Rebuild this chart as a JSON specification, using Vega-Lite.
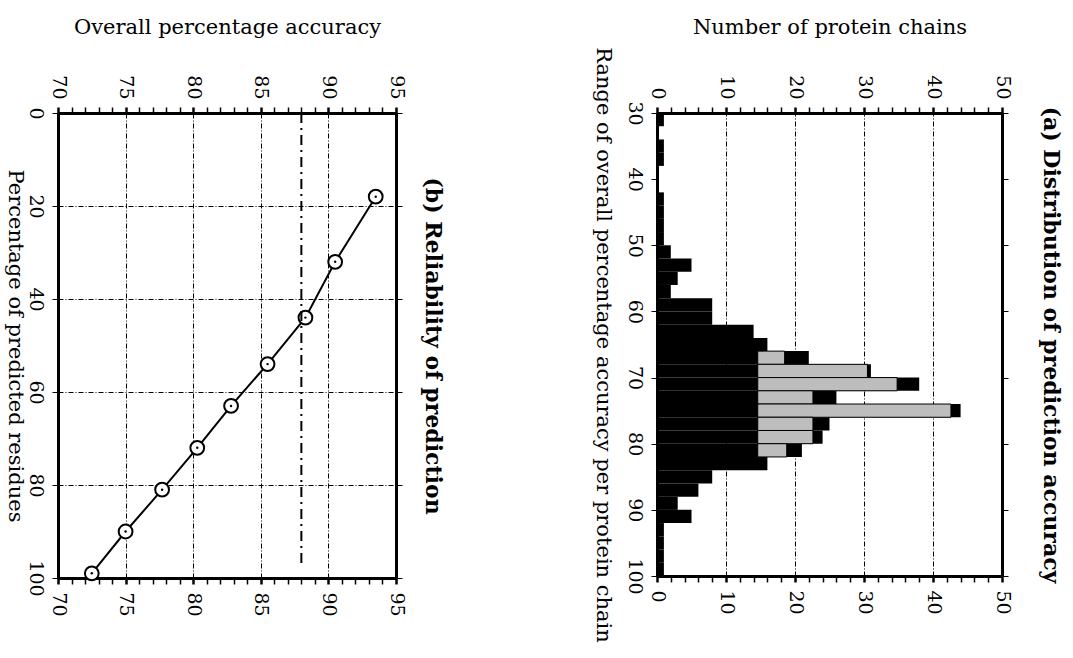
{
  "$schema": "https://vega.github.io/schema/vega-lite/v6.json",
  "padding": {"left": 4, "top": 16, "right": 5, "bottom": 5},
  "spacing": 147,
  "datasets": {
    "reliability": [
      {"pct": 18, "acc": 93.5},
      {"pct": 32, "acc": 90.5},
      {"pct": 44, "acc": 88.3},
      {"pct": 54, "acc": 85.5},
      {"pct": 63, "acc": 82.8},
      {"pct": 72, "acc": 80.3},
      {"pct": 81, "acc": 77.7},
      {"pct": 90, "acc": 75.0},
      {"pct": 99, "acc": 72.5}
    ],
    "cutoff": [{"acc": 88, "pct_from": 0, "pct_to": 97}],
    "hist": [
      {"lo": 30, "hi": 32, "count": 1},
      {"lo": 32, "hi": 34, "count": 0},
      {"lo": 34, "hi": 36, "count": 1},
      {"lo": 36, "hi": 38, "count": 1},
      {"lo": 38, "hi": 40, "count": 0},
      {"lo": 40, "hi": 42, "count": 0},
      {"lo": 42, "hi": 44, "count": 1},
      {"lo": 44, "hi": 46, "count": 1},
      {"lo": 46, "hi": 48, "count": 1},
      {"lo": 48, "hi": 50, "count": 1},
      {"lo": 50, "hi": 52, "count": 2},
      {"lo": 52, "hi": 54, "count": 5},
      {"lo": 54, "hi": 56, "count": 3},
      {"lo": 56, "hi": 58, "count": 2},
      {"lo": 58, "hi": 60, "count": 8},
      {"lo": 60, "hi": 62, "count": 8},
      {"lo": 62, "hi": 64, "count": 14},
      {"lo": 64, "hi": 66, "count": 16},
      {"lo": 66, "hi": 68, "count": 22, "shade_from": 14.6, "shade_to": 18.5},
      {"lo": 68, "hi": 70, "count": 31, "shade_from": 14.6, "shade_to": 30.5},
      {"lo": 70, "hi": 72, "count": 38, "shade_from": 14.6, "shade_to": 34.8},
      {"lo": 72, "hi": 74, "count": 26, "shade_from": 14.6, "shade_to": 22.6},
      {"lo": 74, "hi": 76, "count": 44, "shade_from": 14.6, "shade_to": 42.6},
      {"lo": 76, "hi": 78, "count": 25, "shade_from": 14.6, "shade_to": 22.6},
      {"lo": 78, "hi": 80, "count": 24, "shade_from": 14.6, "shade_to": 22.6},
      {"lo": 80, "hi": 82, "count": 21, "shade_from": 14.6, "shade_to": 18.8},
      {"lo": 82, "hi": 84, "count": 16},
      {"lo": 84, "hi": 86, "count": 8},
      {"lo": 86, "hi": 88, "count": 6},
      {"lo": 88, "hi": 90, "count": 3},
      {"lo": 90, "hi": 92, "count": 5},
      {"lo": 92, "hi": 94, "count": 1},
      {"lo": 94, "hi": 96, "count": 1},
      {"lo": 96, "hi": 98, "count": 1},
      {"lo": 98, "hi": 100, "count": 1}
    ]
  },
  "hconcat": [
    {
      "width": 338,
      "height": 465,
      "resolve": {"axis": {"x": "independent", "y": "independent"}},
      "layer": [
        {
          "data": {"name": "reliability"},
          "mark": {"type": "line", "color": "black", "strokeWidth": 2},
          "encoding": {
            "x": {
              "field": "acc", "type": "quantitative",
              "scale": {"domain": [70, 95], "nice": false, "zero": false},
              "axis": {
                "orient": "bottom", "title": null,
                "values": [70,71,72,73,74,75,76,77,78,79,80,81,82,83,84,85,86,87,88,89,90,91,92,93,94,95],
                "labelExpr": "datum.value % 5 === 0 ? datum.label : ''",
                "tickSize": 6, "labelPadding": 8,
                "tickWidth": {"condition": {"test": "datum.value % 5 === 0", "value": 2.5}, "value": 1.5},
                "grid": true, "gridColor": "black", "gridWidth": 1, "gridDash": [5, 2, 1, 2],
                "gridOpacity": {"condition": {"test": "datum.value % 5 === 0 && datum.value > 70 && datum.value < 95", "value": 1}, "value": 0}
              }
            },
            "y": {
              "field": "pct", "type": "quantitative",
              "scale": {"domain": [0, 100], "reverse": true, "nice": false, "zero": false},
              "axis": {
                "orient": "left",
                "values": [0, 20, 40, 60, 80, 100],
                "title": "Percentage of predicted residues",
                "titleAngle": 90, "titleBaseline": "top", "titlePadding": 0,
                "tickSize": 6, "labelPadding": 8,
                "grid": true, "gridColor": "black", "gridWidth": 1, "gridDash": [5, 2, 1, 2],
                "gridOpacity": {"condition": {"test": "datum.value > 0 && datum.value < 100", "value": 1}, "value": 0}
              }
            }
          }
        },
        {
          "data": {"name": "reliability"},
          "mark": {"type": "point", "shape": "circle", "filled": true, "fill": "white", "stroke": "black", "strokeWidth": 2, "size": 190, "opacity": 1},
          "encoding": {
            "x": {"field": "acc", "type": "quantitative", "axis": null},
            "y": {"field": "pct", "type": "quantitative", "axis": null}
          }
        },
        {
          "data": {"name": "reliability"},
          "mark": {"type": "point", "shape": "circle", "filled": true, "color": "black", "size": 6, "opacity": 1},
          "encoding": {
            "x": {"field": "acc", "type": "quantitative", "axis": null},
            "y": {"field": "pct", "type": "quantitative", "axis": null}
          }
        },
        {
          "data": {"name": "cutoff"},
          "mark": {"type": "rule", "color": "black", "strokeWidth": 2, "strokeDash": [10, 5, 2, 5]},
          "encoding": {
            "x": {
              "field": "acc", "type": "quantitative",
              "axis": {
                "orient": "top",
                "title": "Overall percentage accuracy",
                "titlePadding": 37,
                "values": [70,71,72,73,74,75,76,77,78,79,80,81,82,83,84,85,86,87,88,89,90,91,92,93,94,95],
                "labelExpr": "datum.value % 5 === 0 ? datum.label : ''",
                "tickSize": 6, "labelPadding": 8,
                "tickWidth": {"condition": {"test": "datum.value % 5 === 0", "value": 2.5}, "value": 1.5}
              }
            },
            "y": {
              "field": "pct_from", "type": "quantitative",
              "axis": {
                "orient": "right",
                "values": [0, 20, 40, 60, 80, 100],
                "labels": false,
                "tickSize": 6,
                "title": "(b) Reliability of prediction",
                "titleFontWeight": "bold", "titleFontSize": 22, "titlePadding": 18
              }
            },
            "y2": {"field": "pct_to"}
          }
        }
      ]
    },
    {
      "width": 345,
      "height": 463,
      "resolve": {"axis": {"x": "independent", "y": "independent"}},
      "layer": [
        {
          "data": {"name": "hist"},
          "mark": {"type": "rect", "color": "black"},
          "encoding": {
            "x": {
              "field": "count", "type": "quantitative",
              "scale": {"domain": [0, 50], "nice": false},
              "axis": {
                "orient": "bottom", "title": null,
                "values": [0,2,4,6,8,10,12,14,16,18,20,22,24,26,28,30,32,34,36,38,40,42,44,46,48,50],
                "labelExpr": "datum.value % 10 === 0 ? datum.label : ''",
                "tickSize": 6, "labelPadding": 8,
                "tickWidth": {"condition": {"test": "datum.value % 10 === 0", "value": 2.5}, "value": 1.5},
                "grid": true, "gridColor": "black", "gridWidth": 1, "gridDash": [5, 2, 1, 2],
                "gridOpacity": {"condition": {"test": "datum.value % 10 === 0 && datum.value > 0 && datum.value < 50", "value": 1}, "value": 0}
              }
            },
            "x2": {"datum": 0},
            "y": {
              "field": "lo", "type": "quantitative",
              "scale": {"domain": [30, 100], "reverse": true, "nice": false, "zero": false},
              "axis": {
                "orient": "left",
                "values": [30, 40, 50, 60, 70, 80, 90, 100],
                "title": "Range of overall percentage accuracy per protein chain",
                "titleAngle": 90, "titleBaseline": "top", "titlePadding": 11,
                "tickSize": 6, "labelPadding": 8
              }
            },
            "y2": {"field": "hi"}
          }
        },
        {
          "data": {"name": "hist"},
          "transform": [{"filter": "isValid(datum.shade_to)"}],
          "mark": {"type": "rect", "color": "#bdbdbd", "stroke": "black", "strokeWidth": 1},
          "encoding": {
            "x": {
              "field": "shade_from", "type": "quantitative",
              "axis": {
                "orient": "top",
                "title": "Number of protein chains",
                "titlePadding": 37,
                "values": [0,2,4,6,8,10,12,14,16,18,20,22,24,26,28,30,32,34,36,38,40,42,44,46,48,50],
                "labelExpr": "datum.value % 10 === 0 ? datum.label : ''",
                "tickSize": 6, "labelPadding": 8,
                "tickWidth": {"condition": {"test": "datum.value % 10 === 0", "value": 2.5}, "value": 1.5}
              }
            },
            "x2": {"field": "shade_to"},
            "y": {
              "field": "lo", "type": "quantitative",
              "axis": {
                "orient": "right",
                "values": [30, 40, 50, 60, 70, 80, 90, 100],
                "labels": false,
                "tickSize": 6,
                "title": "(a) Distribution of prediction accuracy",
                "titleFontWeight": "bold", "titleFontSize": 22, "titlePadding": 30
              }
            },
            "y2": {"field": "hi"}
          }
        }
      ]
    }
  ],
  "config": {
    "font": "DejaVu Serif",
    "view": {"stroke": null},
    "axis": {
      "labelFont": "DejaVu Serif",
      "titleFont": "DejaVu Serif",
      "labelFontSize": 19,
      "titleFontSize": 21,
      "titleFontWeight": "normal",
      "labelColor": "black",
      "titleColor": "black",
      "domainColor": "black",
      "domainWidth": 3,
      "tickColor": "black",
      "labelAngle": 90,
      "grid": false,
      "labelOverlap": false,
      "labelFlush": false
    }
  }
}
